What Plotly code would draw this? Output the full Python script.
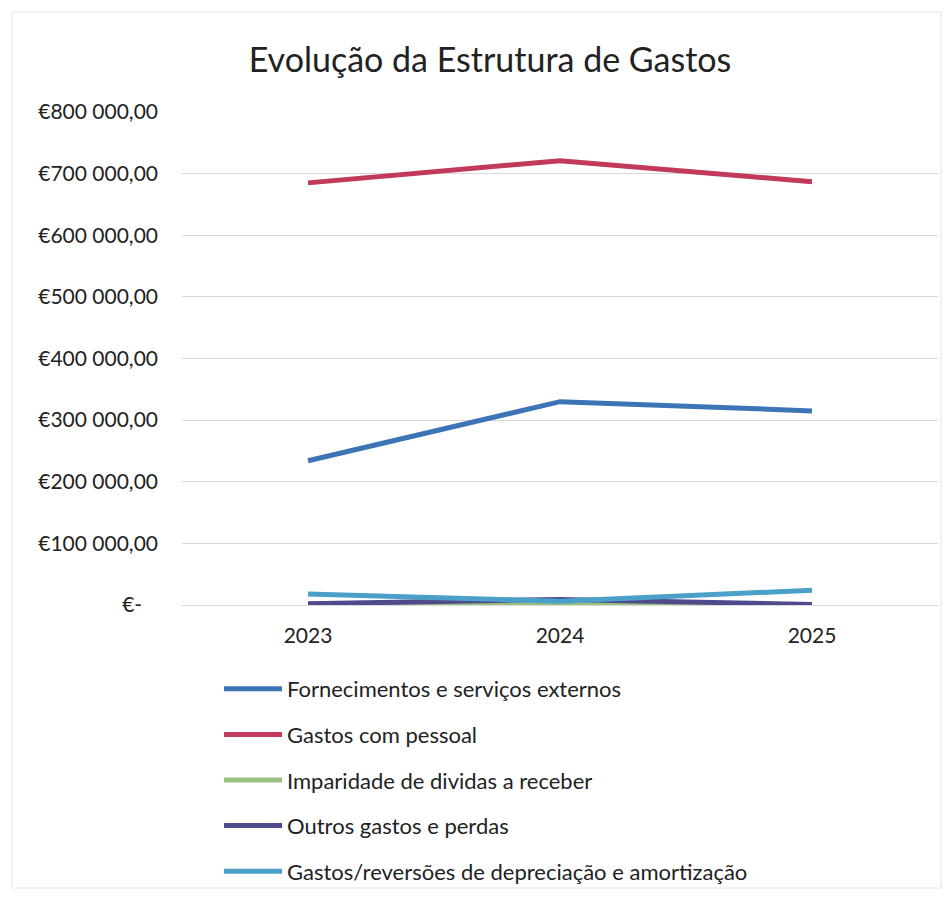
import plotly.graph_objects as go

years = ["2023", "2024", "2025"]
fornecimentos = [234000, 330000, 315000]
pessoal = [685000, 721000, 687000]
imparidade = [0, 0, 0]
outros = [2000, 9000, 1000]
depreciacao = [18000, 6000, 24000]

series_names = [
    "Fornecimentos e serviços externos",
    "Gastos com pessoal",
    "Imparidade de dividas a receber",
    "Outros gastos e perdas",
    "Gastos/reversões de depreciação e amortização",
]
series_values = [fornecimentos, pessoal, imparidade, outros, depreciacao]
colors = ["#3d74b6", "#c23a5b", "#98c07f", "#4e4a8c", "#4aa0c9"]

tick_vals = [0, 100000, 200000, 300000, 400000, 500000, 600000, 700000, 800000]
tick_text = ["€-\u2002\u00a0", "€100 000,00", "€200 000,00", "€300 000,00", "€400 000,00",
             "€500 000,00", "€600 000,00", "€700 000,00", "€800 000,00"]

font_family = "Lato, 'Open Sans', sans-serif"

W, H = 935, 882          # page has an 8px body margin
L, R, T, B = 174, 5, 104, 285
PW = W - L - R
PH = H - T - B

fig = go.Figure()
order = [2, 3, 4, 0, 1]
for i in order:
    fig.add_trace(go.Scatter(
        x=years, y=series_values[i], name=series_names[i], mode="lines",
        line=dict(color=colors[i], width=5),
        legendgroup=f"g{i}", legendrank=i + 1,
    ))

fig.update_layout(
    width=W, height=H,
    margin=dict(l=L, r=R, t=T, b=B, autoexpand=False),
    paper_bgcolor="white", plot_bgcolor="white",
    title=dict(text="Evolução da Estrutura de Gastos", x=482 / W, xanchor="center",
               y=1 - 52 / H, yanchor="middle",
               font=dict(family=font_family, size=34, color="#222222")),
    font=dict(family=font_family, color="#333333"),
    showlegend=True,
    legend=dict(x=(211 - L) / PW, y=-(660 - (T + PH)) / PH,
                xanchor="left", yanchor="top", tracegroupgap=14,
                font=dict(size=22, color="#222222"), itemwidth=58,
                bgcolor="rgba(0,0,0,0)"),
    xaxis=dict(type="category", range=[-0.5, 2.5], showgrid=False, showline=False,
               ticks="", tickangle=0,
               tickfont=dict(size=21, color="#222222"), ticklabelstandoff=16),
    yaxis=dict(range=[0, 800000], tickvals=tick_vals, ticktext=tick_text,
               showgrid=True, gridcolor="#d9d9d9", gridwidth=1, zeroline=True,
               zerolinecolor="#d9d9d9", zerolinewidth=1, showline=False,
               tickfont=dict(size=21, color="#222222"), ticklabelstandoff=23),
    shapes=[dict(type="rect", xref="paper", yref="paper", x0=-(L - 4) / PW, x1=1 + 3 / PW,
                 y0=-(B - 2) / PH, y1=1 + (T - 4) / PH,
                 line=dict(color="#e3e3e3", width=1))],
)

fig.write_html("out.html")
